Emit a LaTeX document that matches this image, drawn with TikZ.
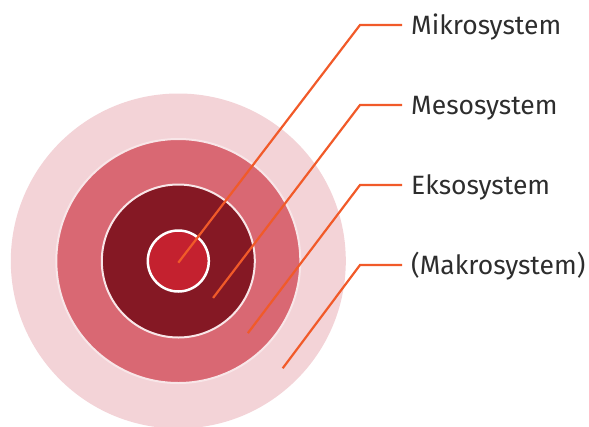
\documentclass[tikz,border=0pt]{standalone}
\usepackage{fontspec}
\setmainfont{Fira Sans}
\usepackage{xcolor}
\usetikzlibrary{positioning}

\definecolor{makrocol}{HTML}{F3D3D7}
\definecolor{ekscol}{HTML}{D96873}
\definecolor{mesocol}{HTML}{851824}
\definecolor{mikrocol}{HTML}{C4212F}
\definecolor{rimcol}{HTML}{F8E6E8}
\definecolor{leadcol}{HTML}{F15A29}
\definecolor{textcol}{HTML}{2D2D2D}

\begin{document}
\begin{tikzpicture}[x=1pt, y=-1pt,
        ring/.style={circle, inner sep=0pt},
        leader/.style={draw=leadcol, line width=2.2pt},
        lbl/.style={font=\fontsize{26.5}{31}\selectfont, text=textcol, inner sep=0pt,
        anchor=west, text height=18.3pt, text depth=0pt}
    ]
    \useasboundingbox (0,0) rectangle (589,426);

    % Nested circles (largest first)
    \node[ring, fill=makrocol, minimum size=335pt] (makro) at (178.3,261) {};
    \node[ring, fill=ekscol, draw=rimcol, line width=2pt, minimum size=244pt] (eks) at (makro.center) {};
    \node[ring, fill=mesocol, draw=rimcol, line width=2pt, minimum size=153pt] (meso) at (makro.center) {};
    \node[ring, fill=mikrocol, draw=white, line width=2.5pt, minimum size=61pt] (mikro) at (makro.center) {};

    % Labels with leader lines
    \foreach \i/\txt in {0/Mikrosystem, 1/Mesosystem, 2/Eksosystem, 3/{(Makrosystem)}} {
        \coordinate (p\i) at (178.3+34.8*\i, 262.7+35.2*\i);
        \coordinate (k\i) at (360, 25+80*\i);
        \node[lbl] (lab\i) at (411, 25+80*\i) {\txt};
        \draw[leader] (p\i) -- (k\i) -- ([xshift=-9pt]lab\i.west);
    }

\end{tikzpicture}
\end{document}
